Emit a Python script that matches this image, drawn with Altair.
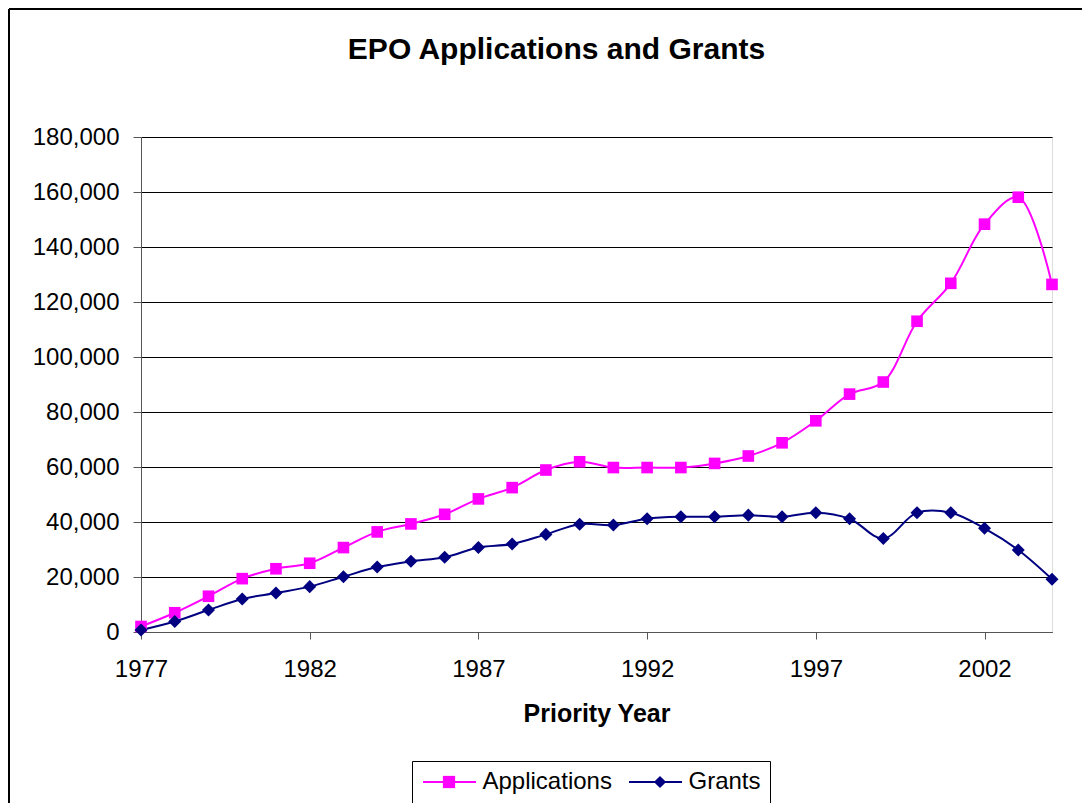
import altair as alt
import pandas as pd

years = list(range(1977, 2005))
applications = [2000, 7000, 13000, 19400, 23000, 25000, 30700, 36400, 39300, 42800,
                48400, 52500, 58900, 61900, 59800, 59800, 59800, 61300, 64000, 68800,
                76800, 86500, 90900, 113000, 126800, 148300, 158100, 126400]
grants = [700, 3800, 8000, 12000, 14200, 16500, 20100, 23600, 25700, 27200,
          30700, 32000, 35500, 39200, 38900, 41200, 41900, 41900, 42500, 41900,
          43400, 41200, 34000, 43400, 43400, 37700, 29800, 19200]
series_names = ["Applications", "Grants"]
series_colors = ["#FF00FF", "#000080"]
x_ticks = [1977, 1982, 1987, 1992, 1997, 2002]

marker_names = ["m_" + n for n in series_names]
rows = []
for name, mname, vals in zip(series_names, marker_names, [applications, grants]):
    for yr, v in zip(years, vals):
        rows.append({"year": yr, "value": v, "series": name, "marker": mname})
df = pd.DataFrame(rows)

FONT = "Liberation Sans"
LEG_X, LEG_Y = 271, 624

line_legend = alt.Legend(
    title=None, orient="none", legendX=LEG_X, legendY=LEG_Y,
    direction="horizontal", strokeColor="black", padding=9,
    labelFontSize=24, labelFont=FONT, labelColor="black",
    labelOffset=21, columnPadding=13,
    symbolType="M-2.65,0H2.65", symbolSize=400, symbolStrokeWidth=2,
    symbolOffset=16.5,
)
marker_legend = alt.Legend(
    title=None, orient="none", legendX=LEG_X, legendY=LEG_Y,
    direction="horizontal", padding=9,
    labelFontSize=24, labelFont=FONT, labelOpacity=0,
    labelExpr="slice(datum.label, 2)",
    labelOffset=32, columnPadding=9, symbolOffset=16,
    symbolSize=150, symbolStrokeWidth=0,
)

x = alt.X(
    "year:Q",
    scale=alt.Scale(domain=[1977, 2004], nice=False, zero=False),
    axis=alt.Axis(
        values=x_ticks, format="d", title="Priority Year",
        labelFontSize=24, labelFont=FONT, labelColor="black",
        titleFontSize=25, titleFont=FONT, titleFontWeight="bold", titleColor="black",
        tickSize=7, labelPadding=18, titlePadding=20,
        domainColor="#555555", tickColor="#555555", grid=False,
        labelFlush=False,
    ),
)
y = alt.Y(
    "value:Q",
    scale=alt.Scale(domain=[0, 180000], nice=False),
    axis=alt.Axis(
        values=list(range(0, 180001, 20000)), format=",d", title=None,
        labelFontSize=24, labelFont=FONT, labelColor="black",
        tickSize=8, labelPadding=14,
        domainColor="#555555", tickColor="#555555",
        grid=True, gridColor="black", gridWidth=1,
    ),
)

base = alt.Chart(df)
lines = base.mark_line(interpolate="catmull-rom", strokeWidth=2).encode(
    x=x, y=y,
    color=alt.Color("series:N", scale=alt.Scale(domain=series_names, range=series_colors), legend=line_legend),
)
points = base.mark_point(filled=True, opacity=1).encode(
    x=x, y=y,
    fill=alt.Fill("marker:N", scale=alt.Scale(domain=marker_names, range=series_colors), legend=marker_legend),
    shape=alt.Shape("marker:N", scale=alt.Scale(domain=marker_names, range=["square", "diamond"]), legend=marker_legend),
    size=alt.Size("marker:N", scale=alt.Scale(domain=marker_names[::-1], range=[170, 135]), legend=None),
)

frame_data = alt.Chart(pd.DataFrame({"k": [0]}))
frame_left = frame_data.mark_rule(color="black", strokeWidth=2).encode(
    x=alt.value(-132), y=alt.value(-128), y2=alt.value(700))
frame_top = frame_data.mark_rule(color="black", strokeWidth=2).encode(
    x=alt.value(-132), x2=alt.value(960), y=alt.value(-128))

chart = alt.layer(frame_left, frame_top, lines, points).properties(
    width=911,
    height=495,
    autosize=alt.AutoSizeParams(type="none"),
    padding={"left": 133, "top": 129, "right": 30, "bottom": 171},
    title=alt.TitleParams(
        "EPO Applications and Grants", fontSize=30, font=FONT, fontWeight="bold",
        color="black", anchor="middle", dx=-40, offset=0, dy=81, baseline="alphabetic",
    ),
).configure_view(stroke="#808080", strokeWidth=1).configure(background="white")

chart.save("out.html", embed_options={"renderer": "svg", "actions": False})
